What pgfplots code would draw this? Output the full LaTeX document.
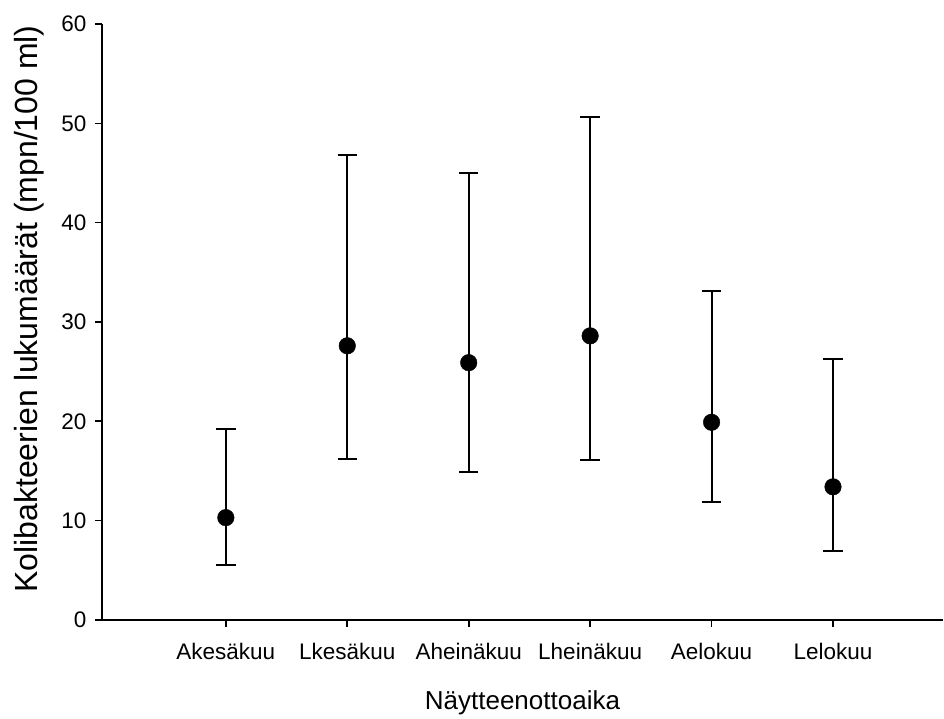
\documentclass[border=0pt]{standalone}
\usepackage{fontspec}
\setmainfont{Liberation Sans}
\usepackage{pgfplots}
\pgfplotsset{compat=1.18}
\begin{document}
\begin{tikzpicture}
\begin{axis}[
  scale only axis,
  width=841pt, height=596pt,
  xmin=-1.02, xmax=5.905,
  ymin=0, ymax=60,
  axis x line=bottom, axis y line=left,
  axis line style={-, line width=2.2pt},
  xtick={0,1,2,3,4,5},
  xticklabels={Akesäkuu,Lkesäkuu,Aheinäkuu,Lheinäkuu,Aelokuu,Lelokuu},
  ytick={0,10,20,30,40,50,60},
  tick align=outside,
  major tick length=7pt,
  tick style={line width=1.6pt, black},
  /pgf/number format/assume math mode=true,
  tick label style={font=\fontsize{22.5}{26}\selectfont},
  xticklabel style={yshift=-13pt},
  yticklabel style={xshift=-5pt},
  xlabel={Näytteenottoaika},
  ylabel={Kolibakteerien lukumäärät (mpn/100 ml)},
  xlabel style={font=\fontsize{26}{30}\selectfont, yshift=-24pt},
  ylabel style={font=\fontsize{32}{36}\selectfont, yshift=10pt, xshift=13pt},
  clip=false,
]
\addplot[black, only marks, mark=*, mark size=8.3pt,
  error bars/.cd, y dir=both, y explicit,
  error bar style={line width=2pt, black},
  error mark options={rotate=90, mark size=9.7pt, line width=2pt, black}]
coordinates {
  (0,10.3) += (0,8.9) -= (0,4.8)
  (1,27.6) += (0,19.2) -= (0,11.35)
  (2,25.9) += (0,19.05) -= (0,11.0)
  (3,28.6) += (0,22.0) -= (0,12.45)
  (4,19.9) += (0,13.2) -= (0,8.0)
  (5,13.4) += (0,12.9) -= (0,6.5)
};
\end{axis}
\path (current axis.south west) ++(-102pt,-96pt);
\path (current axis.north east) ++(0pt,24pt);
\end{tikzpicture}
\end{document}
